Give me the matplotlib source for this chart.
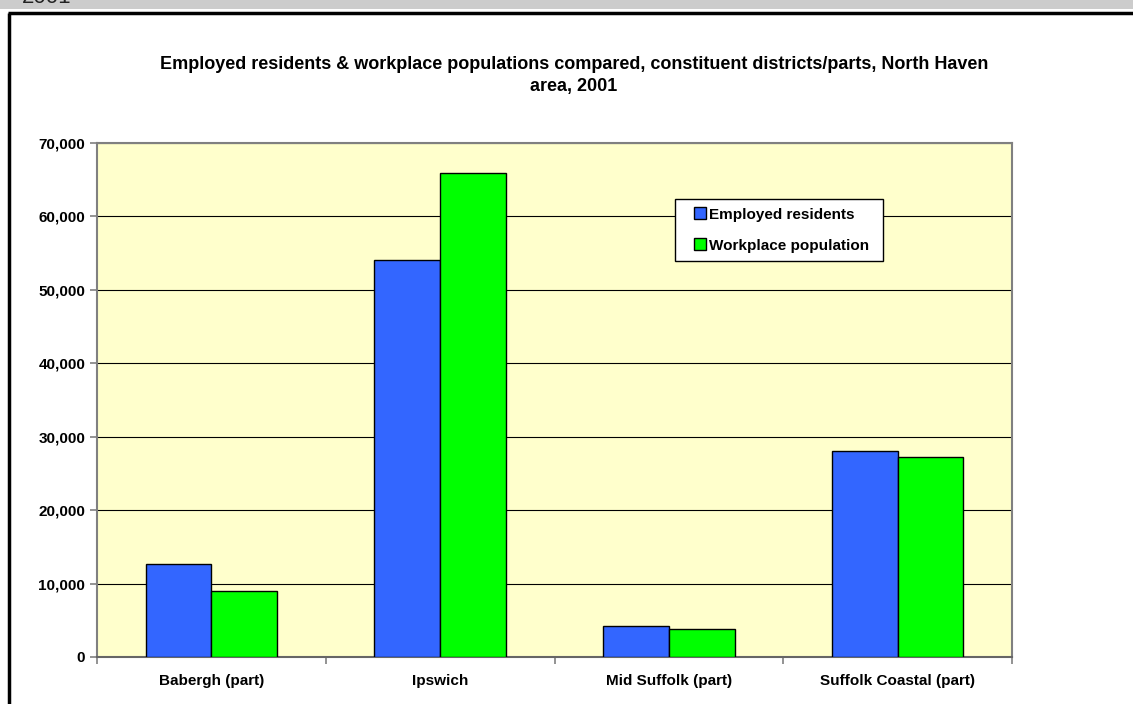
import matplotlib
matplotlib.use("Agg")
import matplotlib.pyplot as plt
from matplotlib.patches import Rectangle
from matplotlib.lines import Line2D
from matplotlib.container import BarContainer
from matplotlib.legend_handler import HandlerPatch, update_from_first_child
import numpy as np

districts = ["Babergh (part)", "Ipswich", "Mid Suffolk (part)", "Suffolk Coastal (part)"]
employed_residents = [12600, 54100, 4200, 28100]
workplace_population = [8950, 65900, 3750, 27200]
y_ticks = [0, 10000, 20000, 30000, 40000, 50000, 60000, 70000]
series_names = ["Employed residents", "Workplace population"]

W, H = 1133, 704
plt.rcParams["font.family"] = ["Liberation Sans", "DejaVu Sans"]
fig = plt.figure(figsize=(W / 100, H / 100), dpi=100)
fig.patch.set_facecolor("white")

# top grey band with partially visible heading
fig.patches.append(Rectangle((0, 1 - 9 / H), 1, 9 / H, transform=fig.transFigure,
                             facecolor="#cccccc", edgecolor="none", zorder=0))
fig.text(22 / W, 1 - 3 / H, "2001", fontsize=16, color="#222222",
         ha="left", va="baseline")

# black frame around the chart
fig.add_artist(Line2D([8.5 / W, 8.5 / W], [0, 1 - 12.5 / H], transform=fig.transFigure,
                      color="black", lw=2.5, solid_capstyle="butt"))
fig.add_artist(Line2D([7.5 / W, 1], [1 - 12.5 / H, 1 - 12.5 / H], transform=fig.transFigure,
                      color="black", lw=2.5, solid_capstyle="butt"))

left, right, top, bottom = 97, 1012, 143, 657
ax = fig.add_axes([left / W, 1 - bottom / H, (right - left) / W, (bottom - top) / H])
ax.set_facecolor("#ffffcc")

x = np.arange(len(districts))
bw = 0.287
ax.bar(x - bw / 2, employed_residents, width=bw, color="#3366ff", edgecolor="black",
       linewidth=1, label=series_names[0], zorder=3)
ax.bar(x + bw / 2, workplace_population, width=bw, color="#00ff00", edgecolor="black",
       linewidth=1, label=series_names[1], zorder=3)

ax.set_xlim(-0.5, len(districts) - 0.5)
ax.set_ylim(0, 70000)
ax.set_yticks(y_ticks)
ax.set_yticklabels([f"{v:,}" for v in y_ticks], fontsize=11, fontweight="bold")
ax.yaxis.grid(True, color="black", linewidth=0.8, zorder=1)
ax.set_axisbelow(True)

ax.set_xticks(x)
ax.set_xticklabels(districts, fontsize=11, fontweight="bold")
ax.set_xticks(np.arange(-0.5, len(districts)), minor=True)
ax.tick_params(axis="x", which="major", length=0, pad=12.5)
ax.tick_params(axis="x", which="minor", length=5, color="#808080", width=1.2)
ax.tick_params(axis="y", length=5, color="#808080", width=1.2, pad=3.5)

for side in ["left", "right", "top", "bottom"]:
    ax.spines[side].set_color("#808080")
    ax.spines[side].set_linewidth(1.5)
ax.spines["bottom"].set_color("#666666")

fig.text(574 / W, 1 - 75.5 / H,
         "Employed residents & workplace populations compared, constituent districts/parts, North Haven\narea, 2001",
         ha="center", va="center", fontsize=13, fontweight="bold", linespacing=1.35)


def key_square(legend, orig_handle, xdescent, ydescent, width, height, fontsize):
    # small square key, right-aligned in the handle slot
    s = 0.78 * fontsize
    return Rectangle((-xdescent + width - s, -ydescent + (height - s) / 2), s, s)


lx0 = (675 - left) / (right - left)
ly0 = (bottom - 261) / (bottom - top)
lw_ = (883 - 675) / (right - left)
lh_ = (261 - 199) / (bottom - top)
leg = ax.legend(loc="lower left", bbox_to_anchor=(lx0, ly0, lw_, lh_), mode="expand",
                frameon=True, fancybox=False, prop={"weight": "bold", "size": 11},
                handlelength=1.48, handleheight=0.8, handletextpad=0.2, borderpad=0.55,
                labelspacing=1.1, borderaxespad=0,
                handler_map={BarContainer: HandlerPatch(patch_func=key_square,
                                                        update_func=update_from_first_child)})
leg.get_frame().set_edgecolor("black")
leg.get_frame().set_linewidth(1)
leg.get_frame().set_facecolor("white")
leg.get_frame().set_alpha(1)

fig.savefig("out.png", dpi=100)
